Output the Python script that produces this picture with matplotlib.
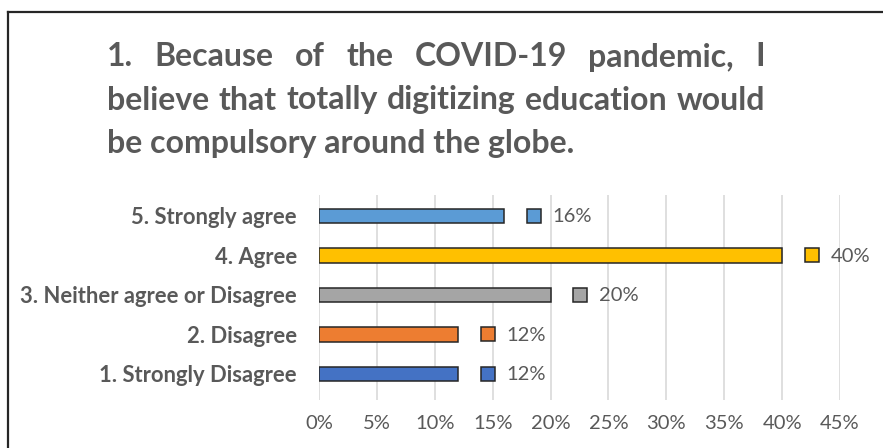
import numpy as np
import matplotlib
matplotlib.use("Agg")
from matplotlib import pyplot as plt
from matplotlib.lines import Line2D
from matplotlib.ticker import FuncFormatter
import matplotlib.transforms as mtransforms

plt.rcParams["font.family"] = ["Lato", "DejaVu Sans"]

# Survey answers, bottom to top
categories = ["1. Strongly Disagree", "2. Disagree", "3. Neither agree or Disagree",
              "4. Agree", "5. Strongly agree"]
shares = [12, 12, 20, 40, 16]   # percent
bar_colors = ["#4472C4", "#ED7D31", "#A5A5A5", "#FFC000", "#5B9BD5"]
x_ticks = [0, 5, 10, 15, 20, 25, 30, 35, 40, 45]

title_lines = ["1. Because of the COVID-19 pandemic, I",
               "believe that totally digitizing education would",
               "be compulsory around the globe."]

gray = "#595959"

fig = plt.figure(figsize=(8.83, 4.48), dpi=100)
ax = fig.add_axes([319 / 883, 1 - 400 / 448, 521 / 883, 205 / 448])

y = np.arange(len(categories))
ax.barh(y, shares, height=0.36, color=bar_colors, edgecolor="#262626", linewidth=1.1, zorder=3)

# data labels: small colour key followed by the value
shift = mtransforms.offset_copy(ax.transData, fig=fig, x=21.5, y=0, units="points")
for yi, v, c in zip(y, shares, bar_colors):
    ax.plot([v], [yi], marker="s", markersize=9.5, markerfacecolor=c,
            markeredgecolor="#262626", markeredgewidth=1.1, transform=shift,
            clip_on=False, zorder=4)
    ax.annotate("%d%%" % v, xy=(v, yi), xytext=(35, -0.5), textcoords="offset points",
                ha="left", va="center", fontsize=14.5, color=gray)

ax.set_xlim(0, 45)
ax.set_ylim(-0.66, 4.53)
ax.set_xticks(x_ticks)
ax.xaxis.set_major_formatter(FuncFormatter(lambda v, p: "%d%%" % v))
ax.set_yticks(y)
ax.set_yticklabels(categories, fontsize=15.8, fontweight="bold", color=gray)
ax.tick_params(axis="x", length=0, pad=11, labelsize=14.5, labelcolor=gray)
ax.tick_params(axis="y", length=0, pad=16)
ax.grid(axis="x", color="#D9D9D9", linewidth=1.2, zorder=0)
for s in ax.spines.values():
    s.set_visible(False)

# frame on the left and top
fig.add_artist(Line2D([8 / 883, 8 / 883], [0, 1 - 12 / 448], transform=fig.transFigure,
                      color="#262626", linewidth=1.6))
fig.add_artist(Line2D([8 / 883, 1], [1 - 12 / 448, 1 - 12 / 448], transform=fig.transFigure,
                      color="#262626", linewidth=1.6))

# justified title, spread between left and right margins
renderer = fig.canvas.get_renderer()
x0, x1 = 107 / 883, 765 / 883
line_y = [57, 100, 143]
title_size = 23
for i, line in enumerate(title_lines):
    yy = 1 - line_y[i] / 448
    words = line.split(" ")
    if i == len(title_lines) - 1:
        fig.text(x0, yy, line, fontsize=title_size, fontweight="bold", color=gray, va="center")
        continue
    texts = [fig.text(0, yy, w, fontsize=title_size, fontweight="bold", color=gray, va="center")
             for w in words]
    widths = [t.get_window_extent(renderer).width / fig.bbox.width for t in texts]
    gap = (x1 - x0 - sum(widths)) / (len(words) - 1)
    pos = x0
    for t, w in zip(texts, widths):
        t.set_x(pos)
        pos += w + gap

fig.savefig("out.png", dpi=100)
